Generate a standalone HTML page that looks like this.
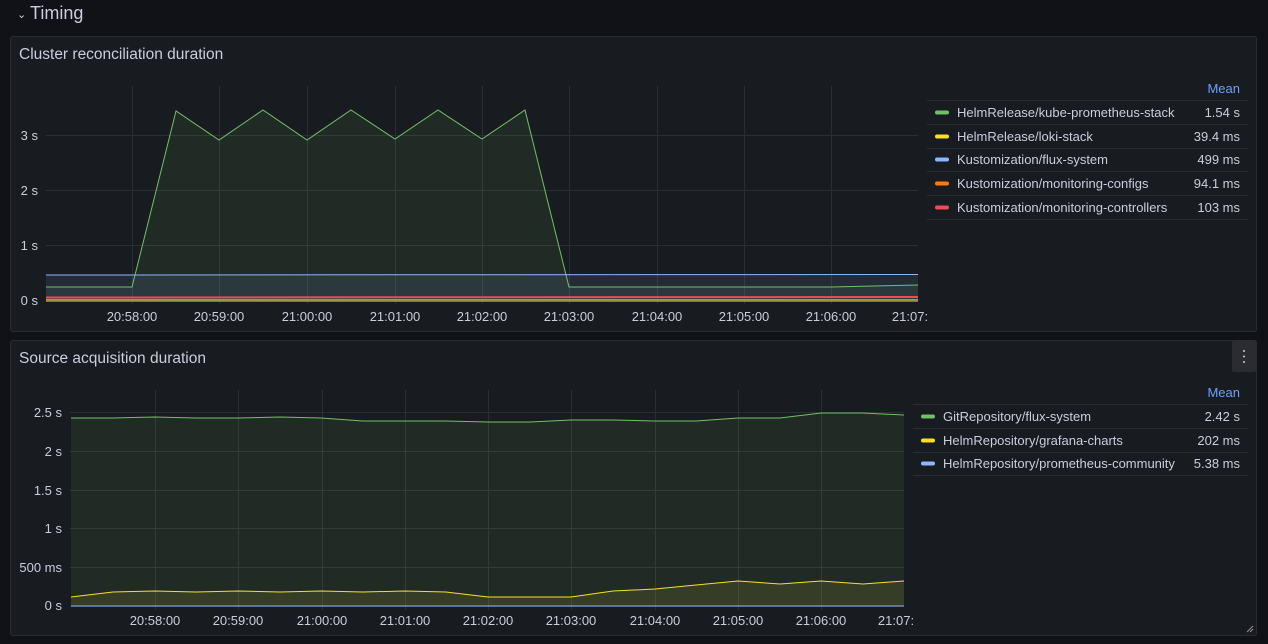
<!DOCTYPE html>
<html><head><meta charset="utf-8"><style>
body{margin:0;background:#111217;width:1268px;height:644px;overflow:hidden;font-family:"Liberation Sans",sans-serif}
svg{display:block}
svg text{font-family:"Liberation Sans",sans-serif}
</style></head><body>
<svg width="1268" height="644" xmlns="http://www.w3.org/2000/svg">
<rect width="1268" height="644" fill="#111217"/>
<text x="17" y="18" fill="#ccccdc" font-size="11">⌄</text>
<text x="30" y="19" fill="#ccccdc" font-size="18">Timing</text>

<!-- Panel 1 -->
<rect x="10.5" y="36.5" width="1246" height="295" rx="2" fill="#181b1f" stroke="#2a2c31"/>
<text x="19" y="59" fill="#ccccdc" font-size="15.5">Cluster reconciliation duration</text>
<g stroke="#2b2e33" stroke-width="1">
<line x1="46" y1="300.5" x2="918" y2="300.5"/><line x1="46" y1="245.5" x2="918" y2="245.5"/><line x1="46" y1="190.5" x2="918" y2="190.5"/><line x1="46" y1="135.5" x2="918" y2="135.5"/>
<line x1="132.5" y1="86" x2="132.5" y2="304"/><line x1="219.5" y1="86" x2="219.5" y2="304"/><line x1="307.5" y1="86" x2="307.5" y2="304"/><line x1="395.5" y1="86" x2="395.5" y2="304"/><line x1="482.5" y1="86" x2="482.5" y2="304"/><line x1="569.5" y1="86" x2="569.5" y2="304"/><line x1="657.5" y1="86" x2="657.5" y2="304"/><line x1="744.5" y1="86" x2="744.5" y2="304"/><line x1="831.5" y1="86" x2="831.5" y2="304"/>
</g>
<g fill="#ccccdc" font-size="13" text-anchor="end">
<text x="38" y="305">0 s</text><text x="38" y="250">1 s</text><text x="38" y="195">2 s</text><text x="38" y="140">3 s</text>
</g>
<g fill="#ccccdc" font-size="13" text-anchor="middle">
<text x="132" y="321">20:58:00</text><text x="219" y="321">20:59:00</text><text x="307" y="321">21:00:00</text><text x="395" y="321">21:01:00</text><text x="482" y="321">21:02:00</text><text x="569" y="321">21:03:00</text><text x="657" y="321">21:04:00</text><text x="744" y="321">21:05:00</text><text x="831" y="321">21:06:00</text><text x="910" y="321">21:07:</text>
</g>
<polygon points="46,287 132,287 176,111 219,140 263,110 307,140 351,110 395,139 438,110 482,139 525,110 569,287 831,287 918,285 918,301 46,301" fill="#73bf69" fill-opacity="0.1"/>
<polygon points="46,275 918,275 918,301 46,301" fill="#8ab8ff" fill-opacity="0.1"/>
<polyline points="46,287 132,287 176,111 219,140 263,110 307,140 351,110 395,139 438,110 482,139 525,110 569,287 831,287 918,285" fill="none" stroke="#73bf69" stroke-width="1"/>
<line x1="46" y1="275" x2="918" y2="274.5" stroke="#8ab8ff" stroke-width="1"/>
<line x1="46" y1="297.5" x2="918" y2="297" stroke="#f2495c" stroke-width="2"/>
<line x1="46" y1="299.5" x2="918" y2="299.5" stroke="#ff780a" stroke-width="1"/>
<line x1="46" y1="301" x2="918" y2="301" stroke="#fade2a" stroke-width="1"/>
<text x="1240" y="93" fill="#6e9fff" font-size="13" text-anchor="end">Mean</text>
<g stroke="#2a2c31"><line x1="927" y1="100.5" x2="1248" y2="100.5"/><line x1="927" y1="124.5" x2="1248" y2="124.5"/><line x1="927" y1="148.5" x2="1248" y2="148.5"/><line x1="927" y1="171.5" x2="1248" y2="171.5"/><line x1="927" y1="195.5" x2="1248" y2="195.5"/><line x1="927" y1="219.5" x2="1248" y2="219.5"/></g>
<g stroke-width="4" stroke-linecap="round"><line x1="937" y1="112.5" x2="947" y2="112.5" stroke="#73bf69"/><line x1="937" y1="136.5" x2="947" y2="136.5" stroke="#fade2a"/><line x1="937" y1="159.5" x2="947" y2="159.5" stroke="#8ab8ff"/><line x1="937" y1="183.5" x2="947" y2="183.5" stroke="#ff780a"/><line x1="937" y1="207.5" x2="947" y2="207.5" stroke="#f2495c"/></g>
<g fill="#ccccdc" font-size="13">
<text x="957" y="117">HelmRelease/kube-prometheus-stack</text><text x="957" y="141">HelmRelease/loki-stack</text><text x="957" y="164">Kustomization/flux-system</text><text x="957" y="188">Kustomization/monitoring-configs</text><text x="957" y="212">Kustomization/monitoring-controllers</text>
</g>
<g fill="#ccccdc" font-size="13" text-anchor="end">
<text x="1240" y="117">1.54 s</text><text x="1240" y="141">39.4 ms</text><text x="1240" y="164">499 ms</text><text x="1240" y="188">94.1 ms</text><text x="1240" y="212">103 ms</text>
</g>

<!-- Panel 2 -->
<rect x="10.5" y="340.5" width="1246" height="295" rx="2" fill="#181b1f" stroke="#2a2c31"/>
<text x="19" y="363" fill="#ccccdc" font-size="15.5">Source acquisition duration</text>
<rect x="1232" y="341" width="24" height="31" rx="2" fill="#2a2c31"/>
<g fill="#ccccdc"><circle cx="1244" cy="351" r="1"/><circle cx="1244" cy="356.5" r="1"/><circle cx="1244" cy="362" r="1"/></g>
<g stroke="#2b2e33" stroke-width="1">
<line x1="70" y1="606.5" x2="904" y2="606.5"/><line x1="70" y1="567.5" x2="904" y2="567.5"/><line x1="70" y1="528.5" x2="904" y2="528.5"/><line x1="70" y1="490.5" x2="904" y2="490.5"/><line x1="70" y1="451.5" x2="904" y2="451.5"/><line x1="70" y1="412.5" x2="904" y2="412.5"/>
<line x1="155.5" y1="390" x2="155.5" y2="610"/><line x1="238.5" y1="390" x2="238.5" y2="610"/><line x1="322.5" y1="390" x2="322.5" y2="610"/><line x1="405.5" y1="390" x2="405.5" y2="610"/><line x1="488.5" y1="390" x2="488.5" y2="610"/><line x1="571.5" y1="390" x2="571.5" y2="610"/><line x1="655.5" y1="390" x2="655.5" y2="610"/><line x1="738.5" y1="390" x2="738.5" y2="610"/><line x1="821.5" y1="390" x2="821.5" y2="610"/>
</g>
<g fill="#ccccdc" font-size="13" text-anchor="end">
<text x="62" y="610">0 s</text><text x="62" y="572">500 ms</text><text x="62" y="533">1 s</text><text x="62" y="495">1.5 s</text><text x="62" y="456">2 s</text><text x="62" y="417">2.5 s</text>
</g>
<g fill="#ccccdc" font-size="13" text-anchor="middle">
<text x="155" y="625">20:58:00</text><text x="238" y="625">20:59:00</text><text x="322" y="625">21:00:00</text><text x="405" y="625">21:01:00</text><text x="488" y="625">21:02:00</text><text x="571" y="625">21:03:00</text><text x="655" y="625">21:04:00</text><text x="738" y="625">21:05:00</text><text x="821" y="625">21:06:00</text><text x="896" y="625">21:07:</text>
</g>
<polygon points="71,418 113,418 155,417 196,418 238,418 280,417 321,418 363,421 405,421 446,421 488,422 530,422 571,420 613,420 655,421 696,421 738,418 780,418 821,413 863,413 904,415 904,606 71,606" fill="#73bf69" fill-opacity="0.1"/>
<polygon points="71,597 113,592 155,591 196,592 238,591 280,592 321,591 363,592 405,591 446,592 488,597 530,597 571,597 613,591 655,589 696,585 738,581 780,584 821,581 863,584 904,581 904,606 71,606" fill="#fade2a" fill-opacity="0.1"/>
<polyline points="71,418 113,418 155,417 196,418 238,418 280,417 321,418 363,421 405,421 446,421 488,422 530,422 571,420 613,420 655,421 696,421 738,418 780,418 821,413 863,413 904,415" fill="none" stroke="#73bf69" stroke-width="1"/>
<polyline points="71,597 113,592 155,591 196,592 238,591 280,592 321,591 363,592 405,591 446,592 488,597 530,597 571,597 613,591 655,589 696,585 738,581 780,584 821,581 863,584 904,581" fill="none" stroke="#fade2a" stroke-width="1"/>
<line x1="71" y1="606" x2="904" y2="606" stroke="#8ab8ff" stroke-width="1"/>
<text x="1240" y="397" fill="#6e9fff" font-size="13" text-anchor="end">Mean</text>
<g stroke="#2a2c31"><line x1="913" y1="404.5" x2="1248" y2="404.5"/><line x1="913" y1="428.5" x2="1248" y2="428.5"/><line x1="913" y1="452.5" x2="1248" y2="452.5"/><line x1="913" y1="475.5" x2="1248" y2="475.5"/></g>
<g stroke-width="4" stroke-linecap="round"><line x1="923" y1="416.5" x2="933" y2="416.5" stroke="#73bf69"/><line x1="923" y1="440.5" x2="933" y2="440.5" stroke="#fade2a"/><line x1="923" y1="463.5" x2="933" y2="463.5" stroke="#8ab8ff"/></g>
<g fill="#ccccdc" font-size="13">
<text x="943" y="421">GitRepository/flux-system</text><text x="943" y="445">HelmRepository/grafana-charts</text><text x="943" y="468">HelmRepository/prometheus-community</text>
</g>
<g fill="#ccccdc" font-size="13" text-anchor="end">
<text x="1240" y="421">2.42 s</text><text x="1240" y="445">202 ms</text><text x="1240" y="468">5.38 ms</text>
</g>
<path d="M1247 632 L1253 626 M1250 632 L1253 629" stroke="#8e8e9e" stroke-width="1"/>
</svg>
</body></html>
